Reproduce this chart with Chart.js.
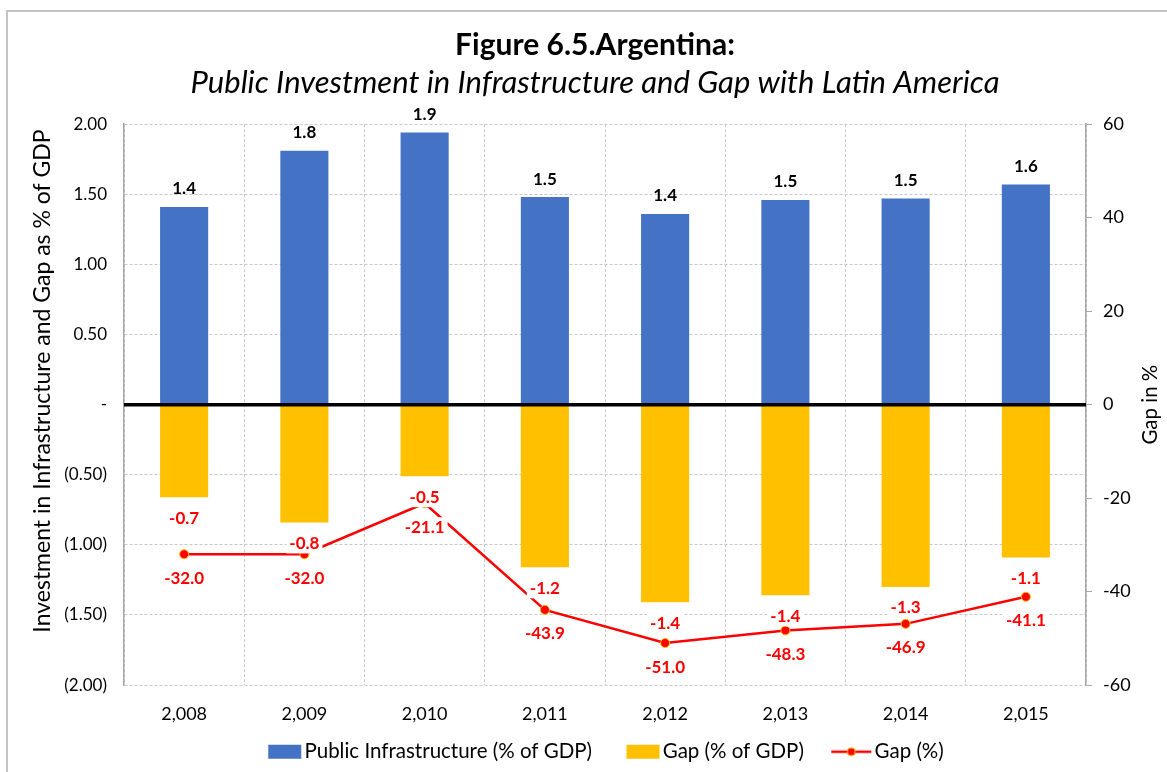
<!DOCTYPE html>
<html>
<head>
<meta charset="utf-8">
<script src="https://cdn.jsdelivr.net/npm/chart.js@4.4.1/dist/chart.umd.min.js"></script>
<style>
  html, body { margin: 0; padding: 0; background: #ffffff; overflow: hidden; }
  #wrap { position: relative; width: 1167px; height: 772px; }
  #frame { position: absolute; left: 6px; top: 10px; width: 1300px; height: 900px;
           border-top: 2px solid #c4c4c4; border-left: 2px solid #c4c4c4; }
  #chart { position: absolute; left: 0; top: 0; }
</style>
</head>
<body>
<div id="wrap">
  <div id="frame"></div>
  <canvas id="chart" width="1167" height="772"></canvas>
</div>
<script>
// Data
const years = [2008, 2009, 2010, 2011, 2012, 2013, 2014, 2015];
const infraGdp = [1.41, 1.81, 1.94, 1.48, 1.36, 1.46, 1.47, 1.57];
const gapGdp = [-0.66, -0.84, -0.51, -1.16, -1.41, -1.36, -1.30, -1.09];
const gapPct = [-32.0, -32.0, -21.1, -43.9, -51.0, -48.3, -46.9, -41.1];
const leftTicks = [-2, -1.5, -1, -0.5, 0, 0.5, 1, 1.5, 2];
const rightTicks = [-60, -40, -20, 0, 20, 40, 60];

// Colors
const BLUE = '#4472c4';
const GOLD = '#ffc000';
const RED = '#ff0000';
const GRID = '#c8c8c8';
const AXIS = '#a6a6a6';
const FONT = 'Lato';

function fmtLeft(v) {
    if (Math.abs(v) < 1e-9) return '-';
    const s = Math.abs(v).toFixed(2);
    return v < 0 ? '(' + s + ')' : s;
}

// legend symbols: wide transparent canvas, mark drawn at its right end
// so the gap before the text stays small like in Excel
function boxSymbol(color) {
    const c = document.createElement('canvas');
    c.width = 96; c.height = 16;
    const g = c.getContext('2d');
    g.fillStyle = color;
    g.fillRect(46, 1, 33, 14);
    return c;
}
function lineSymbol() {
    const c = document.createElement('canvas');
    c.width = 96; c.height = 16;
    const g = c.getContext('2d');
    g.strokeStyle = RED; g.lineWidth = 2.5;
    g.beginPath(); g.moveTo(39, 8); g.lineTo(79, 8); g.stroke();
    g.beginPath(); g.arc(59, 8, 4, 0, Math.PI * 2);
    g.fillStyle = RED; g.fill();
    g.strokeStyle = '#f5b800'; g.lineWidth = 1; g.stroke();
    return c;
}

// labels, zero line, axis titles
const decorPlugin = {
    id: 'decor',
    afterDatasetsDraw(chart) {
        const ctx = chart.ctx;
        const area = chart.chartArea;
        const y0 = chart.scales.y.getPixelForValue(0);
        ctx.save();
        ctx.strokeStyle = '#000000';
        ctx.lineWidth = 3.5;
        ctx.beginPath();
        ctx.moveTo(area.left, y0);
        ctx.lineTo(area.right, y0);
        ctx.stroke();

        ctx.font = 'bold 17px ' + FONT;
        ctx.textAlign = 'center';
        ctx.textBaseline = 'middle';

        function label(text, x, cy, color) {
            const w = ctx.measureText(text).width + 6;
            ctx.fillStyle = '#ffffff';
            ctx.fillRect(x - w / 2, cy - 10, w, 20);
            ctx.fillStyle = color;
            ctx.fillText(text, x, cy);
        }

        const m0 = chart.getDatasetMeta(0);
        const m1 = chart.getDatasetMeta(1);
        const m2 = chart.getDatasetMeta(2);
        m2.data.forEach((pt, i) => {
            label(gapPct[i].toFixed(1), pt.x, pt.y + 24, RED);
        });
        m1.data.forEach((bar, i) => {
            label(gapGdp[i].toFixed(1), bar.x, bar.y + 21, RED);
        });
        m0.data.forEach((bar, i) => {
            ctx.fillStyle = '#000000';
            ctx.fillText(infraGdp[i].toFixed(1), bar.x, bar.y - 18);
        });
        ctx.restore();
    },
    afterDraw(chart) {
        const ctx = chart.ctx;
        const area = chart.chartArea;
        ctx.save();
        ctx.fillStyle = '#000000';
        ctx.textAlign = 'center';
        ctx.textBaseline = 'middle';

        ctx.save();
        ctx.translate(43, 381);
        ctx.rotate(-Math.PI / 2);
        ctx.font = '23px ' + FONT;
        ctx.fillText('Investment in Infrastructure and Gap as % of GDP', 0, 0);
        ctx.restore();

        ctx.translate(1150, (area.top + area.bottom) / 2);
        ctx.rotate(-Math.PI / 2);
        ctx.font = '20.5px ' + FONT;
        ctx.fillText('Gap in %', 0, 0);
        ctx.restore();
    }
};

const PAD_L = 26, PAD_R = 3;
const ctx = document.getElementById('chart').getContext('2d');
new Chart(ctx, {
    data: {
        labels: years,
        datasets: [
            {
                type: 'bar',
                label: 'Public Infrastructure (% of GDP)',
                data: infraGdp,
                backgroundColor: BLUE,
                barPercentage: 0.4,
                categoryPercentage: 1,
                yAxisID: 'y',
                order: 2
            },
            {
                type: 'bar',
                label: 'Gap (% of GDP)',
                data: gapGdp,
                backgroundColor: GOLD,
                barPercentage: 0.4,
                categoryPercentage: 1,
                yAxisID: 'y',
                order: 2
            },
            {
                type: 'line',
                label: 'Gap (%)',
                data: gapPct,
                borderColor: RED,
                borderWidth: 2.5,
                pointRadius: 4.5,
                pointBackgroundColor: RED,
                pointBorderColor: '#f5b800',
                pointBorderWidth: 1,
                tension: 0,
                yAxisID: 'y1',
                order: 1
            }
        ]
    },
    options: {
        responsive: false,
        animation: false,
        layout: { padding: { left: PAD_L, right: PAD_R, top: 0, bottom: 0 } },
        plugins: {
            tooltip: { enabled: false },
            title: {
                display: true,
                text: 'Figure 6.5.Argentina:',
                color: '#000000',
                font: { family: FONT, size: 30, weight: 'bold' },
                padding: { top: 27, bottom: 0 }
            },
            subtitle: {
                display: true,
                text: 'Public Investment in Infrastructure and Gap with Latin America',
                color: '#000000',
                font: { family: FONT, size: 31, style: 'italic' },
                padding: { top: 1, bottom: 23 }
            },
            legend: {
                position: 'bottom',
                labels: {
                    usePointStyle: true,
                    pointStyleWidth: 48,
                    boxHeight: 14,
                    padding: 12.4,
                    color: '#000000',
                    font: { family: FONT, size: 20.5 },
                    generateLabels(chart) {
                        const syms = [boxSymbol(BLUE), boxSymbol(GOLD), lineSymbol()];
                        return chart.data.datasets.map((ds, i) => ({
                            text: ds.label,
                            pointStyle: syms[i],
                            fillStyle: 'transparent',
                            strokeStyle: 'transparent',
                            lineWidth: 0,
                            fontColor: '#000000',
                            datasetIndex: i
                        }));
                    }
                }
            }
        },
        scales: {
            x: {
                stacked: true,
                afterFit(axis) { axis.height = 44; },
                grid: { color: GRID, drawTicks: false, offset: true },
                border: { display: false, dash: [3, 2] },
                ticks: {
                    color: '#000000',
                    padding: 18,
                    maxRotation: 0,
                    font: { family: FONT, size: 18 },
                    callback(v, i) { return years[i].toLocaleString('en-US'); }
                }
            },
            y: {
                stacked: true,
                position: 'left',
                min: -2,
                max: 2,
                afterBuildTicks(axis) { axis.ticks = leftTicks.map(v => ({ value: v })); },
                afterFit(axis) { axis.width = 124 - PAD_L; },
                grid: { color: GRID, drawTicks: false },
                border: { display: true, color: AXIS, width: 1.5, dash: [3, 2] },
                ticks: {
                    color: '#000000',
                    padding: 17,
                    font: { family: FONT, size: 17 },
                    callback: v => fmtLeft(v)
                }
            },
            y1: {
                position: 'right',
                min: -60,
                max: 60,
                afterBuildTicks(axis) { axis.ticks = rightTicks.map(v => ({ value: v })); },
                afterFit(axis) { axis.width = 1167 - PAD_R - 1086; },
                grid: { drawOnChartArea: false, color: AXIS, tickLength: 6 },
                border: { display: true, color: AXIS, width: 1.5 },
                ticks: {
                    color: '#000000',
                    padding: 11,
                    font: { family: FONT, size: 18 }
                }
            }
        }
    },
    plugins: [decorPlugin]
});
</script>
</body>
</html>
